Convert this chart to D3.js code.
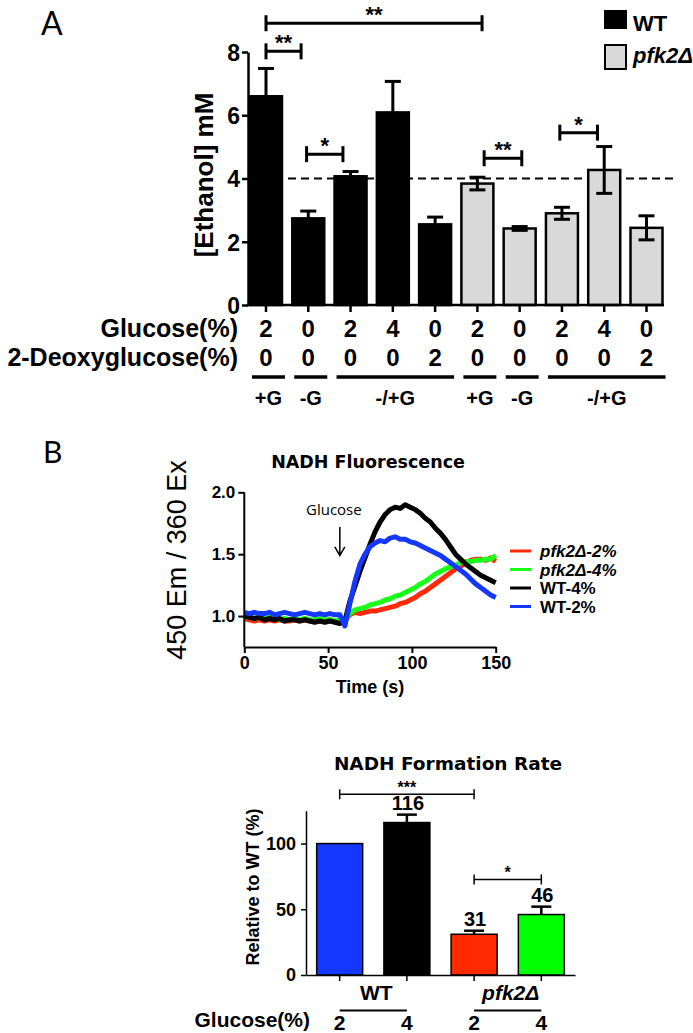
<!DOCTYPE html>
<html><head><meta charset="utf-8">
<script src="https://cdn.jsdelivr.net/npm/d3@7"></script>
<style>
body{margin:0;background:#fff}
svg{display:block}
text{font-family:"Liberation Sans",Arial,sans-serif;fill:#000}
</style>
</head><body>
<svg id="c" width="693" height="1033"></svg>
<script>
// ---------- Panel A data ----------
const ethanolStrain = ["WT","WT","WT","WT","WT","pfk2Δ","pfk2Δ","pfk2Δ","pfk2Δ","pfk2Δ"];
const ethanolGlucose = ["2","0","2","4","0","2","0","2","4","0"];
const ethanolDeoxy = ["0","0","0","0","2","0","0","0","0","2"];
const ethanolMean = [6.60, 2.74, 4.07, 6.09, 2.55, 3.84, 2.42, 2.90, 4.27, 2.44];
const ethanolSEM = [0.88, 0.23, 0.15, 0.98, 0.23, 0.20, 0.06, 0.19, 0.74, 0.38];
const ethanolTicks = [0, 2, 4, 6, 8];
const ethanolRef = 4.0;
const ethanolGroupLabels = ["+G","-G","-/+G","+G","-G","-/+G"];
const ethanolGroupFrom = [0,1,2,5,6,7];
const ethanolGroupTo = [0,1,4,5,6,9];
const ethanolSigFrom = [0, 0, 0.96, 5.16, 6.95];
const ethanolSigTo = [5.11, 0.83, 1.82, 6.05, 7.84];
const ethanolSigY = [8.91, 8.02, 4.77, 4.64, 5.45];
const ethanolSigLabel = ["**","**","*","**","*"];
const ethanolLegend = ["WT","pfk2Δ"];

// ---------- Panel B (line) data ----------
const nadhTime = [0,3,6,9,12,15,18,21,24,27,30,33,36,39,42,45,48,51,54,57,60,63,66,69,72,75,78,81,84,87,90,93,96,99,102,105,108,111,114,117,120,123,126,129,132,135,138,141,144,147,150];
const nadhPfk2 = [0.98,0.97,0.96,0.97,0.96,0.97,0.96,0.97,0.96,0.96,0.97,0.96,0.97,0.96,0.96,0.97,0.96,0.97,0.96,0.96,0.97,1.01,1.03,1.02,1.03,1.04,1.04,1.05,1.06,1.07,1.08,1.10,1.11,1.13,1.15,1.18,1.20,1.23,1.26,1.29,1.32,1.35,1.38,1.40,1.43,1.45,1.46,1.46,1.45,1.47,1.44];
const nadhPfk4 = [1.00,0.99,0.98,0.99,0.98,0.99,0.98,0.97,0.98,0.97,0.98,0.97,0.98,0.97,0.97,0.98,0.97,0.97,0.96,0.97,0.98,1.02,1.05,1.06,1.07,1.09,1.10,1.11,1.13,1.14,1.16,1.17,1.19,1.21,1.23,1.26,1.28,1.31,1.34,1.36,1.38,1.40,1.41,1.43,1.44,1.44,1.45,1.45,1.46,1.46,1.49];
const nadhWT4 = [1.00,0.99,0.98,0.99,0.97,0.98,0.97,0.98,0.96,0.97,0.97,0.96,0.97,0.96,0.95,0.96,0.95,0.96,0.95,0.94,0.96,1.12,1.24,1.36,1.47,1.58,1.68,1.76,1.82,1.86,1.88,1.87,1.90,1.88,1.86,1.83,1.79,1.76,1.71,1.67,1.62,1.56,1.50,1.46,1.42,1.39,1.36,1.33,1.31,1.29,1.27];
const nadhWT2 = [1.03,1.02,1.03,1.02,1.02,1.03,1.01,1.02,1.03,1.02,1.01,1.02,1.03,1.02,1.01,1.02,1.01,1.02,1.01,1.01,0.92,1.10,1.28,1.42,1.50,1.56,1.59,1.61,1.60,1.63,1.64,1.62,1.62,1.60,1.59,1.57,1.55,1.53,1.51,1.49,1.46,1.43,1.40,1.37,1.34,1.30,1.26,1.23,1.20,1.17,1.15];
const nadhSeriesNames = ["pfk2Δ-2%","pfk2Δ-4%","WT-4%","WT-2%"];
const nadhYTicks = [1.0, 1.5, 2.0];
const nadhXTicks = [0, 50, 100, 150];
const glucoseAddTime = 57;

// ---------- Panel B (bar) data ----------
const rateStrain = ["WT","WT","pfk2Δ","pfk2Δ"];
const rateGlucose = ["2","4","2","4"];
const rateValues = [100, 116, 31, 46];
const rateSEM = [0, 6, 2.7, 6];
const rateLabels = ["", "116", "31", "46"];
const rateTicks = [0, 50, 100];
const rateSigFrom = [0, 2];
const rateSigTo = [2, 3];
const rateSigY = [137.5, 72.7];
const rateSigLabel = ["***", "*"];

const svg = d3.select("#c");

// ================= PANEL A =================
svg.append("text").attr("x", 41).attr("y", 35).style("font-family","Lato, 'Open Sans', sans-serif")
  .style("font-size","32px").text("A");

const nA = ethanolMean.length;
const xA = d3.scaleBand().domain(d3.range(nA)).range([249, 663.5]).paddingInner(0.196).paddingOuter(0);
const bwA = xA.bandwidth();
const yA = d3.scaleLinear().domain([0, 8]).range([305, 52]);
const cxA = i => xA(i) + bwA / 2;
const xIdxA = d3.scaleLinear().domain([0, nA - 1]).range([cxA(0), cxA(nA - 1)]);

// dashed reference line (behind bars)
svg.append("line").attr("x1", xA(0)).attr("x2", 678).attr("y1", yA(ethanolRef)).attr("y2", yA(ethanolRef))
  .attr("stroke","#000").attr("stroke-width",2).attr("stroke-dasharray","8,5");

const gA = svg.append("g");
gA.selectAll("rect").data(ethanolMean).join("rect")
  .attr("x", (d,i) => xA(i) + 1).attr("width", bwA - 2)
  .attr("y", d => yA(d)).attr("height", d => yA(0) - yA(d))
  .attr("fill", (d,i) => ethanolStrain[i] === "WT" ? "#000" : "#d9d9d9")
  .attr("stroke","#000").attr("stroke-width",2.5);

// error bars
ethanolMean.forEach((m,i) => {
  const s = ethanolSEM[i], cx = cxA(i), cw = 8;
  const g = gA.append("g").attr("stroke","#000").attr("stroke-width",3);
  g.append("line").attr("x1",cx).attr("x2",cx).attr("y1",yA(m - s)).attr("y2",yA(m + s));
  g.append("line").attr("x1",cx-cw).attr("x2",cx+cw).attr("y1",yA(m + s)).attr("y2",yA(m + s));
  g.append("line").attr("x1",cx-cw).attr("x2",cx+cw).attr("y1",yA(m - s)).attr("y2",yA(m - s));
});

// axes
const yAxA = svg.append("g").attr("transform","translate(248,0)")
  .call(d3.axisLeft(yA).tickValues(ethanolTicks).tickSize(6).tickSizeOuter(0).tickPadding(2).tickFormat(d3.format("d")));
yAxA.select(".domain").attr("stroke-width",2.5);
yAxA.selectAll(".tick line").attr("stroke-width",2.5);
yAxA.selectAll(".tick text").style("font-size","23px").style("font-weight","bold").attr("dy","0.36em");

const xAxA = svg.append("g").attr("transform","translate(0,305)")
  .call(d3.axisBottom(xA).tickSize(7).tickSizeOuter(0).tickFormat(""));
xAxA.select(".domain").attr("stroke-width",2.5).attr("d","M247,0H664");
xAxA.selectAll(".tick line").attr("stroke-width",2.5);

svg.append("text").attr("transform","translate(213,175) rotate(-90)").attr("text-anchor","middle")
  .style("font-size","26px").style("font-weight","bold").text("[Ethanol] mM");

// row labels
svg.append("text").attr("x",238).attr("y",337).attr("text-anchor","end")
  .style("font-size","25px").style("font-weight","bold").text("Glucose(%)");
svg.append("text").attr("x",238).attr("y",366).attr("text-anchor","end")
  .style("font-size","25px").style("font-weight","bold").text("2-Deoxyglucose(%)");
svg.append("g").selectAll("text").data(ethanolGlucose).join("text")
  .attr("x",(d,i)=>cxA(i)).attr("y",337).attr("text-anchor","middle")
  .style("font-size","24px").style("font-weight","bold").text(d=>d);
svg.append("g").selectAll("text").data(ethanolDeoxy).join("text")
  .attr("x",(d,i)=>cxA(i)).attr("y",366).attr("text-anchor","middle")
  .style("font-size","24px").style("font-weight","bold").text(d=>d);

// group underlines
ethanolGroupLabels.forEach((lab,k) => {
  const x1 = xA(ethanolGroupFrom[k]) + 3, x2 = xA(ethanolGroupTo[k]) + bwA + 2;
  svg.append("line").attr("x1",x1).attr("x2",x2).attr("y1",377).attr("y2",377)
    .attr("stroke","#000").attr("stroke-width",3.5);
  svg.append("text").attr("x",(x1+x2)/2).attr("y",405).attr("text-anchor","middle")
    .style("font-size","20px").style("font-weight","bold").text(lab);
});

// significance brackets
ethanolSigLabel.forEach((lab,k) => {
  const x1 = xIdxA(ethanolSigFrom[k]), x2 = xIdxA(ethanolSigTo[k]), y = yA(ethanolSigY[k]);
  const g = svg.append("g").attr("stroke","#000").attr("stroke-width",3);
  g.append("line").attr("x1",x1).attr("x2",x2).attr("y1",y).attr("y2",y);
  g.append("line").attr("x1",x1).attr("x2",x1).attr("y1",y-8).attr("y2",y+8);
  g.append("line").attr("x1",x2).attr("x2",x2).attr("y1",y-8).attr("y2",y+8);
  svg.append("text").attr("x",(x1+x2)/2).attr("y",y-1).attr("text-anchor","middle")
    .style("font-size","22px").style("font-weight","bold").text(lab);
});

// legend A
svg.append("rect").attr("x",604).attr("y",10).attr("width",23).attr("height",19).attr("fill","#000");
svg.append("rect").attr("x",605).attr("y",45).attr("width",21).attr("height",24)
  .attr("fill","#d9d9d9").attr("stroke","#000").attr("stroke-width",2);
svg.append("text").attr("x",633).attr("y",31).style("font-size","22px").style("font-weight","bold").text(ethanolLegend[0]);
svg.append("text").attr("x",633).attr("y",63).style("font-size","22px").style("font-weight","bold")
  .style("font-style","italic").text(ethanolLegend[1]);

// ================= PANEL B : line chart =================
svg.append("text").attr("x", 43).attr("y", 463).style("font-family","Lato, 'Open Sans', sans-serif")
  .style("font-size","30px").text("B");

const xL = d3.scaleLinear().domain([0,150]).range([244.3, 495.7]);
const yL = d3.scaleLinear().domain([0.75, 2.0]).range([647, 492.3]);

svg.append("text").attr("x",368).attr("y",468).attr("text-anchor","middle")
  .style("font-family","'DejaVu Sans',Verdana,sans-serif").style("font-size","17.5px").style("font-weight","bold")
  .text("NADH Fluorescence");

const seriesData = [nadhPfk2, nadhPfk4, nadhWT4, nadhWT2];
const seriesColors = ["#ff2a0a", "#1aff1a", "#000000", "#1438ff"];
const line = d3.line().x((d,i)=>xL(nadhTime[i])).y(d=>yL(d));
seriesData.forEach((s,k) => {
  svg.append("path").datum(s).attr("d", line).attr("fill","none")
    .attr("stroke", seriesColors[k]).attr("stroke-width",5).attr("stroke-linejoin","round");
});

const yAxL = svg.append("g").attr("transform","translate(244.3,0)")
  .call(d3.axisLeft(yL).tickValues(nadhYTicks).tickSize(6).tickSizeOuter(0).tickPadding(3).tickFormat(d3.format(".1f")));
yAxL.select(".domain").attr("stroke-width",2).attr("d","M0,492.3V647");
yAxL.selectAll(".tick line").attr("stroke-width",2);
yAxL.selectAll(".tick text").style("font-size","17px").style("font-weight","bold");

const xAxL = svg.append("g").attr("transform","translate(0,647)")
  .call(d3.axisBottom(xL).tickValues(nadhXTicks).tickSize(6).tickSizeOuter(0).tickPadding(3).tickFormat(d3.format("d")));
xAxL.select(".domain").attr("stroke-width",2);
xAxL.selectAll(".tick line").attr("stroke-width",2);
xAxL.selectAll(".tick text").style("font-size","18px").style("font-weight","bold");

svg.append("text").attr("x",370).attr("y",693).attr("text-anchor","middle")
  .style("font-size","18px").style("font-weight","bold").text("Time (s)");
svg.append("text").attr("transform","translate(186,560) rotate(-90)").attr("text-anchor","middle")
  .style("font-size","27px").text("450 Em / 360 Ex");

// Glucose arrow
const ax = xL(glucoseAddTime);
svg.append("text").attr("x",ax - 6).attr("y",yL(1.82)).attr("text-anchor","middle")
  .style("font-family","'Open Sans',sans-serif").style("font-size","15px").text("Glucose");
svg.append("path").attr("d",`M${ax},${yL(1.72)}V${yL(1.49)}M${ax-5},${yL(1.56)}L${ax},${yL(1.49)}L${ax+5},${yL(1.56)}`)
  .attr("fill","none").attr("stroke","#000").attr("stroke-width",1.5);

// legend line chart
nadhSeriesNames.forEach((nm,k) => {
  const y = 551 + k * 18.5;
  svg.append("line").attr("x1",510).attr("x2",531).attr("y1",y).attr("y2",y)
    .attr("stroke",seriesColors[k]).attr("stroke-width",3);
  svg.append("text").attr("x",540).attr("y",y + 6).style("font-size","17px").style("font-weight","bold")
    .style("font-style", nm.startsWith("pfk") ? "italic" : "normal").text(nm);
});

// ================= PANEL B : bar chart =================
const xR = d3.scaleBand().domain(d3.range(rateValues.length)).range([306, 575]).paddingInner(0.316).paddingOuter(0.159);
const bwR = xR.bandwidth();
const cxR = i => xR(i) + bwR / 2;
const yR = d3.scaleLinear().domain([0, 125]).range([975, 810.7]);
const rateColors = ["#1438ff", "#000000", "#ff2a00", "#00ff00"];

svg.append("text").attr("x",448).attr("y",770).attr("text-anchor","middle")
  .style("font-family","'DejaVu Sans',Verdana,sans-serif").style("font-size","18.5px").style("font-weight","bold")
  .text("NADH Formation Rate");

svg.append("g").selectAll("rect").data(rateValues).join("rect")
  .attr("x",(d,i)=>xR(i)).attr("width",bwR).attr("y",d=>yR(d)).attr("height",d=>yR(0)-yR(d))
  .attr("fill",(d,i)=>rateColors[i]).attr("stroke","#000").attr("stroke-width",1.5);

rateValues.forEach((v,i) => {
  const s = rateSEM[i], cx = cxR(i);
  if (s > 0) {
    const g = svg.append("g").attr("stroke","#000").attr("stroke-width",2.5);
    g.append("line").attr("x1",cx).attr("x2",cx).attr("y1",yR(v)).attr("y2",yR(v+s));
    g.append("line").attr("x1",cx-10).attr("x2",cx+10).attr("y1",yR(v+s)).attr("y2",yR(v+s));
  }
  if (rateLabels[i]) {
    svg.append("text").attr("x",cx + 1).attr("y",yR(v+s) - 5).attr("text-anchor","middle")
      .style("font-size","20px").style("font-weight","bold").text(rateLabels[i]);
  }
});

const yAxR = svg.append("g").attr("transform","translate(306,0)")
  .call(d3.axisLeft(yR).tickValues(rateTicks).tickSize(5).tickSizeOuter(0).tickPadding(5).tickFormat(d3.format("d")));
yAxR.select(".domain").attr("stroke-width",1.5);
yAxR.selectAll(".tick line").attr("stroke-width",1.5);
yAxR.selectAll(".tick text").style("font-size","18px").style("font-weight","bold");

const xAxR = svg.append("g").attr("transform","translate(0,975)")
  .call(d3.axisBottom(xR).tickSize(6).tickSizeOuter(0).tickFormat(""));
xAxR.select(".domain").attr("stroke-width",1.5);
xAxR.selectAll(".tick line").attr("stroke-width",1.5);

svg.append("text").attr("transform","translate(259,887) rotate(-90)").attr("text-anchor","middle")
  .style("font-size","18px").style("font-weight","bold").text("Relative to WT (%)");

rateSigLabel.forEach((lab,k) => {
  const x1 = cxR(rateSigFrom[k]), x2 = cxR(rateSigTo[k]), y = yR(rateSigY[k]);
  const g = svg.append("g").attr("stroke","#000").attr("stroke-width",1.5);
  g.append("line").attr("x1",x1).attr("x2",x2).attr("y1",y).attr("y2",y);
  g.append("line").attr("x1",x1).attr("x2",x1).attr("y1",y-5).attr("y2",y+5);
  g.append("line").attr("x1",x2).attr("x2",x2).attr("y1",y-5).attr("y2",y+5);
  svg.append("text").attr("x",(x1+x2)/2).attr("y",y-1).attr("text-anchor","middle")
    .style("font-size","16px").style("font-weight","bold").text(lab);
});

// strain groups
const strains = Array.from(new Set(rateStrain));
strains.forEach(st => {
  const idx = rateStrain.map((s,i)=>s===st?i:-1).filter(i=>i>=0);
  const x1 = cxR(idx[0]), x2 = cxR(idx[idx.length-1]);
  svg.append("text").attr("x",(x1+x2)/2 + 3).attr("y",1000).attr("text-anchor","middle")
    .style("font-size","21px").style("font-weight","bold")
    .style("font-style", st === "WT" ? "normal" : "italic").text(st);
  svg.append("line").attr("x1",x1).attr("x2",x2).attr("y1",1010.5).attr("y2",1010.5)
    .attr("stroke","#000").attr("stroke-width",2);
});
svg.append("g").selectAll("text").data(rateGlucose).join("text")
  .attr("x",(d,i)=>cxR(i)).attr("y",1030).attr("text-anchor","middle")
  .style("font-size","21px").style("font-weight","bold").text(d=>d);
svg.append("text").attr("x",310).attr("y",1027).attr("text-anchor","end")
  .style("font-size","21px").style("font-weight","bold").text("Glucose(%)");
</script>
</body></html>
